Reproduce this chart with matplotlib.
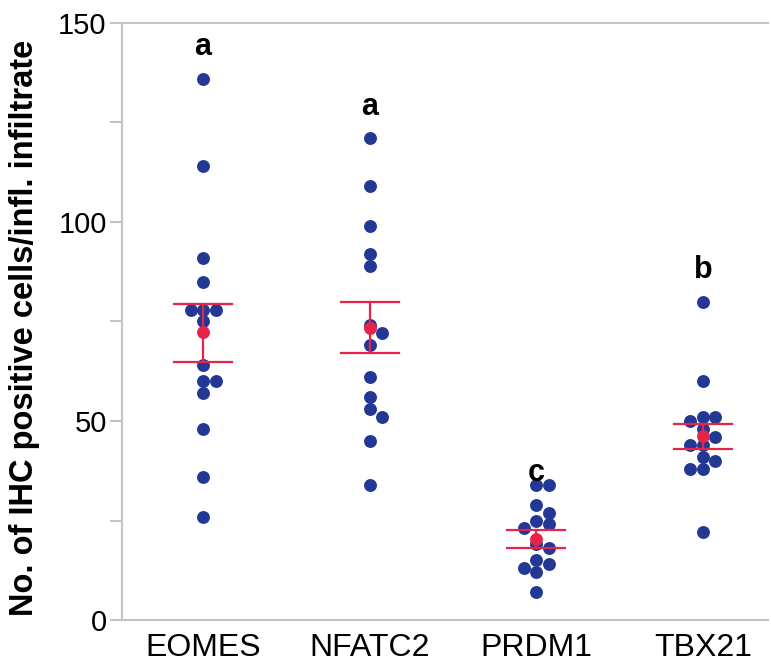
import numpy as np
import matplotlib
matplotlib.use("Agg")
import matplotlib.pyplot as plt
from matplotlib.ticker import MultipleLocator

categories = ["EOMES", "NFATC2", "PRDM1", "TBX21"]
eomes = [136, 114, 91, 85, 78, 78, 78, 75, 64, 60, 60, 57, 48, 36, 26]
nfatc2 = [121, 109, 99, 92, 89, 74, 72, 69, 61, 56, 53, 51, 45, 34]
prdm1 = [34, 34, 29, 27, 25, 24, 23, 19, 18, 15, 14, 13, 12, 7]
tbx21 = [80, 60, 51, 51, 50, 48, 46, 44, 44, 41, 40, 38, 38, 22]
means = [72.3, 73.4, 20.3, 46.2]
upper = [79.3, 79.8, 22.5, 49.3]
lower = [64.8, 67.0, 18.2, 43.0]
letters = ["a", "a", "c", "b"]
letter_y = [144, 129, 37, 88]

groups = [eomes, nfatc2, prdm1, tbx21]

plt.rcParams['font.family'] = ['Liberation Sans', 'DejaVu Sans']

fig = plt.figure(figsize=(7.71, 6.65), dpi=100)
ax = fig.add_axes([122/771, 1-620/665, (768-122)/771, (620-23)/665])
ax.set_xlim(-0.486, 3.39)
ax.set_ylim(0, 150)

blue = "#233895"
red = "#E8234A"

# simple beeswarm in pixel units
px_per_x = (768-122) / (3.39 + 0.486)
px_per_y = (620-23) / 150.0
diam = 12.5

def swarm(vals):
    order = np.argsort(vals)[::-1]
    placed = []
    offs = np.zeros(len(vals))
    for i in order:
        y = vals[i] * px_per_y
        cands = [0.0]
        for k in range(1, 20):
            cands += [k * diam * 0.5, -k * diam * 0.5]
        for c in cands:
            ok = True
            for (px, py) in placed:
                if (px - c) ** 2 + (py - y) ** 2 < (diam * 0.95) ** 2:
                    ok = False
                    break
            if ok:
                placed.append((c, y))
                offs[i] = c / px_per_x
                break
    return offs

for gi, vals in enumerate(groups):
    vals = np.array(vals, dtype=float)
    offs = swarm(vals)
    ax.plot(gi + offs, vals, 'o', color=blue, markersize=9.3, markeredgewidth=0, zorder=3)
    hw = 0.174
    ax.plot([gi - hw, gi + hw], [upper[gi], upper[gi]], color=red, lw=1.6, zorder=4)
    ax.plot([gi - hw, gi + hw], [lower[gi], lower[gi]], color=red, lw=1.6, zorder=4)
    ax.plot([gi, gi], [lower[gi], upper[gi]], color=red, lw=1.6, zorder=4)
    ax.plot([gi], [means[gi]], 'o', color=red, markersize=9.3, markeredgewidth=0, zorder=5)
    ax.text(gi, letter_y[gi], letters[gi], ha='center', va='center',
            fontsize=22, fontweight='bold')

grey = "#C4C4C4"
for s in ["left", "bottom", "top"]:
    ax.spines[s].set_color(grey)
    ax.spines[s].set_linewidth(1.5)
ax.spines["right"].set_visible(False)

ax.set_xticks(range(len(categories)))
ax.set_xticklabels(categories, fontsize=23)
ax.tick_params(axis='x', length=0, pad=9)
ax.yaxis.set_major_locator(MultipleLocator(50))
ax.yaxis.set_minor_locator(MultipleLocator(25))
ax.tick_params(axis='y', which='both', direction='out', length=9, width=1.5,
               color=grey, labelsize=21, pad=2)
ax.set_ylabel("No. of IHC positive cells/infl. infiltrate", fontsize=23.5,
              fontweight='bold')
ax.yaxis.set_label_coords(-0.127, 0.49)

fig.savefig("out.png", dpi=100)
